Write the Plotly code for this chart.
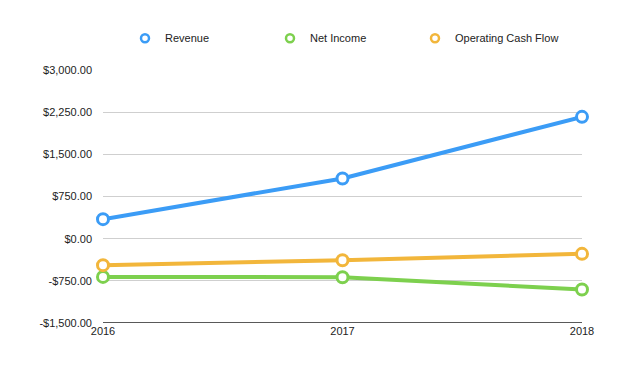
import plotly.graph_objects as go

years = ["2016", "2017", "2018"]
revenue = [347, 1071, 2167]
net_income = [-680, -685, -904]
operating_cash_flow = [-471, -383, -270]

series_names = ["Revenue", "Net Income", "Operating Cash Flow"]
series_values = [revenue, net_income, operating_cash_flow]
colors = ["#3b9cf6", "#7dd04e", "#f2b63b"]

tick_vals = [-1500, -750, 0, 750, 1500, 2250, 3000]
tick_text = ["-$1,500.00", "-$750.00", "$0.00", "$750.00", "$1,500.00", "$2,250.00", "$3,000.00"]

fig = go.Figure()
for name, vals, c in zip(series_names, series_values, colors):
    fig.add_trace(go.Scatter(
        x=years, y=vals, mode="lines+markers", name=name, showlegend=False,
        line=dict(color=c, width=4),
        marker=dict(symbol="circle", size=11, color="white", line=dict(color=c, width=3)),
        cliponaxis=False,
    ))
for name, c in zip(series_names, colors):
    fig.add_trace(go.Scatter(
        x=[None], y=[None], mode="markers", name=name,
        marker=dict(symbol="circle", size=8, color="white", line=dict(color=c, width=2.5)),
    ))

fig.update_layout(
    width=640, height=367,
    margin=dict(l=103, r=58, t=70, b=44),
    paper_bgcolor="white", plot_bgcolor="white",
    font=dict(family="Liberation Sans, Arial, sans-serif", size=11, color="#222"),
    legend=dict(orientation="h", x=0.5, xanchor="center", y=0.896, yanchor="middle",
                yref="container", font=dict(size=11, color="#222"),
                entrywidth=100, itemwidth=30),
    xaxis=dict(type="category", range=[0, 2], showgrid=False, zeroline=False,
               showline=False, ticks="", tickfont=dict(size=11)),
    yaxis=dict(range=[-1500, 3000], tickvals=tick_vals, ticktext=tick_text,
               showgrid=True, gridcolor="#cfcfcf", gridwidth=1, zeroline=False,
               showline=False, ticks="", ticklabelstandoff=10, tickfont=dict(size=11)),
    shapes=[dict(type="line", xref="paper", yref="y", x0=0, x1=1, y0=-1500, y1=-1500,
                 line=dict(color="#222", width=1.5))],
)

fig.write_html("out.html", config={"displayModeBar": False},
               post_script="document.body.style.margin='0';document.body.style.overflow='hidden';")
